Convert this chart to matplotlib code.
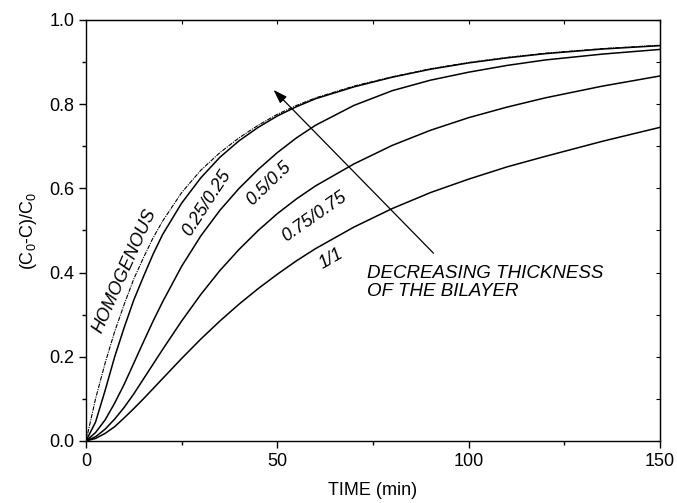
import numpy as np
import matplotlib
matplotlib.use("Agg")
import matplotlib.pyplot as plt
from matplotlib.ticker import MultipleLocator

plt.rcParams['font.family'] = ['Liberation Sans', 'DejaVu Sans']
plt.rcParams['mathtext.fontset'] = 'custom'
plt.rcParams['mathtext.rm'] = 'Liberation Sans'
plt.rcParams['mathtext.it'] = 'Liberation Sans:italic'

# fraction released vs time for each bilayer thickness
t = [0, 2.5, 5, 7.5, 10, 12.5, 15, 17.5, 20, 25, 30, 35, 40, 45, 50, 55, 60,
     70, 80, 90, 100, 110, 120, 135, 150]

y_homog = [0, 0.1, 0.185, 0.26, 0.325, 0.385, 0.435, 0.482, 0.522, 0.59, 0.643,
           0.685, 0.72, 0.75, 0.776, 0.797, 0.815, 0.843, 0.865, 0.884, 0.899,
           0.911, 0.921, 0.932, 0.94]
y_025 = [0, 0.045, 0.12, 0.2, 0.27, 0.335, 0.39, 0.443, 0.49, 0.565, 0.625,
         0.674, 0.713, 0.745, 0.772, 0.794, 0.813, 0.841, 0.864, 0.883, 0.898,
         0.91, 0.92, 0.931, 0.939]
y_05 = [0, 0.02, 0.05, 0.09, 0.135, 0.185, 0.235, 0.284, 0.33, 0.415, 0.487,
        0.548, 0.6, 0.645, 0.685, 0.72, 0.75, 0.797, 0.832, 0.857, 0.876,
        0.892, 0.905, 0.919, 0.93]
y_075 = [0, 0.01, 0.028, 0.052, 0.08, 0.112, 0.147, 0.182, 0.217, 0.285, 0.348,
         0.405, 0.455, 0.5, 0.54, 0.575, 0.606, 0.658, 0.702, 0.738, 0.768,
         0.793, 0.815, 0.843, 0.867]
y_11 = [0, 0.006, 0.018, 0.034, 0.055, 0.077, 0.1, 0.124, 0.148, 0.196, 0.242,
        0.285, 0.325, 0.362, 0.396, 0.428, 0.457, 0.508, 0.552, 0.59, 0.622,
        0.651, 0.676, 0.712, 0.745]

fig = plt.figure(figsize=(6.77, 5.03), dpi=100)
ax = fig.add_axes([0.127, 0.1233, 0.848, 0.837])

ax.plot(t, y_homog, color="black", lw=0.8, ls=(0, (4, 1, 1, 1)))
ax.plot(t, y_025, color="black", lw=1.1)
ax.plot(t, y_05, color="black", lw=1.1)
ax.plot(t, y_075, color="black", lw=1.1)
ax.plot(t, y_11, color="black", lw=1.1)

ax.set_xlim(0, 150)
ax.set_ylim(0, 1.0)
ax.xaxis.set_major_locator(MultipleLocator(50))
ax.xaxis.set_minor_locator(MultipleLocator(25))
ax.yaxis.set_major_locator(MultipleLocator(0.2))
ax.yaxis.set_minor_locator(MultipleLocator(0.1))
ax.yaxis.set_major_formatter(plt.FormatStrFormatter('%.1f'))
ax.tick_params(which='major', direction='out', length=5, width=1, labelsize=13)
ax.tick_params(which='minor', direction='out', length=3, width=1)
for s in ax.spines.values():
    s.set_linewidth(1.0)

# inward ticks on top and right
top = ax.secondary_xaxis('top')
top.xaxis.set_major_locator(MultipleLocator(25))
top.tick_params(direction='in', length=3, labeltop=False)
right = ax.secondary_yaxis('right')
right.yaxis.set_major_locator(MultipleLocator(0.1))
right.tick_params(direction='in', length=3, labelright=False)

ax.set_xlabel("TIME (min)", fontsize=13, labelpad=9)
ax.set_ylabel("(C$_0$-C)/C$_0$", fontsize=13, labelpad=7)

lab = dict(fontsize=13, style='italic', ha='center', va='center', rotation_mode='anchor')
ax.text(10.2, 0.405, "HOMOGENOUS", rotation=66, **lab)
ax.text(31.6, 0.565, "0.25/0.25", rotation=57, **lab)
ax.text(47.9, 0.612, "0.5/0.5", rotation=44, **lab)
ax.text(59.7, 0.532, "0.75/0.75", rotation=35, **lab)
ax.text(64.0, 0.432, "1/1", rotation=30, **lab)

ax.annotate("", xy=(49.0, 0.834), xytext=(90.8, 0.446),
            arrowprops=dict(arrowstyle='-|>,head_length=0.6,head_width=0.2',
                            color='black', lw=0.9,
                            mutation_scale=14, shrinkA=0, shrinkB=0))
ax.text(73.4, 0.418, "DECREASING THICKNESS\nOF THE BILAYER", fontsize=13.5,
        style='italic', ha='left', va='top', linespacing=1.1)

fig.savefig("out.png", dpi=100)
